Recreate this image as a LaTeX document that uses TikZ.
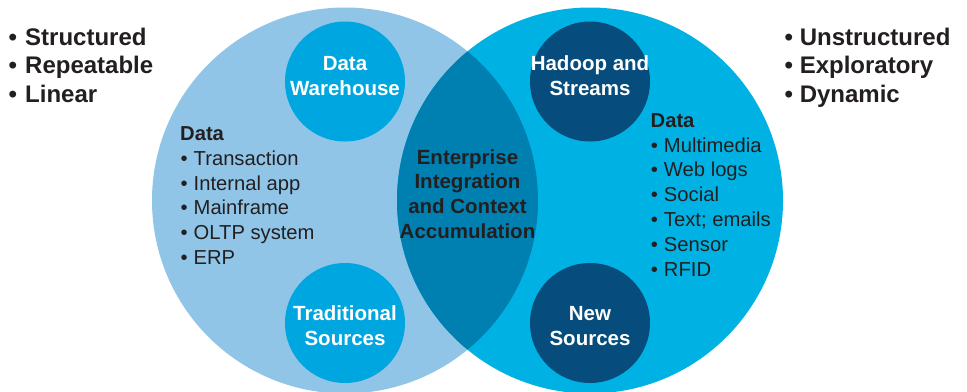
\documentclass[tikz,border=0pt]{standalone}
\usepackage{fontspec}
\setmainfont{Liberation Sans}
\begin{document}
\definecolor{paleblue}{HTML}{90C5E8}
\definecolor{skyblue}{HTML}{00B2E3}
\definecolor{lensblue}{HTML}{007FB1}
\definecolor{midblue}{HTML}{00A6E0}
\definecolor{navyblue}{HTML}{064C7C}
\definecolor{ink}{HTML}{231F20}
\begin{tikzpicture}[x=1bp,y=-1bp,
  bigset/.style={circle,inner sep=0pt,minimum size=386bp},
  smallset/.style={circle,inner sep=0pt,minimum size=120bp},
  headtext/.style={anchor=base west,inner sep=0pt,text=ink,
    font=\fontsize{24bp}{28bp}\selectfont\bfseries},
  listtext/.style={anchor=base west,inner sep=0pt,text=ink,
    font=\fontsize{20.2bp}{25bp}\selectfont},
  listhead/.style={listtext,font=\fontsize{20.2bp}{25bp}\selectfont\bfseries},
  circletext/.style={anchor=base,inner sep=0pt,text=white,
    font=\fontsize{20.5bp}{25bp}\selectfont\bfseries},
  lenstext/.style={anchor=base,inner sep=0pt,text=ink,
    font=\fontsize{20.5bp}{25bp}\selectfont\bfseries}]
\fill[white] (0,0) rectangle (967,391);
\useasboundingbox (0,0) rectangle (967,391);

% two overlapping sets
\node[bigset,fill=paleblue] (trad) at (345,200.5) {};
\node[bigset,fill=skyblue] (new) at (590,200.5) {};
\begin{scope}
  \clip (345,200.5) circle [radius=193bp];
  \fill[lensblue] (590,200.5) circle [radius=193bp];
\end{scope}

% small circles
\node[smallset,fill=midblue] (dw) at (345,81.5) {};
\node[smallset,fill=midblue] (ts) at (345,323) {};
\node[smallset,fill=navyblue] (hs) at (590,81.5) {};
\node[smallset,fill=navyblue] (ns) at (590,323) {};

\node[circletext] (dw1) at (345,70.7) {Data};
\node[circletext] (dw2) at (345,95) {Warehouse};
\node[circletext] (ts1) at (345,320) {Traditional};
\node[circletext] (ts2) at (345,345) {Sources};
\node[circletext] (hs1) at (590,70.7) {Hadoop and};
\node[circletext] (hs2) at (590,95) {Streams};
\node[circletext] (ns1) at (590,320) {New};
\node[circletext] (ns2) at (590,345) {Sources};

% overlap label
\foreach \t [count=\i from 0] in {Enterprise,Integration,and Context,Accumulation}
  \node[lenstext] (lens\i) at (467.5,164+24.75*\i) {\t};

% corner characteristics
\foreach \t [count=\i from 0] in {Structured,Repeatable,Linear}
  \node[headtext] (lt\i) at (8.4,45+28.9*\i) {\makebox[16.6bp][l]{•}\t};
\foreach \t [count=\i from 0] in {Unstructured,Exploratory,Dynamic}
  \node[headtext] (rt\i) at (784.4,45+28.9*\i) {\makebox[15.2bp][l]{•}\t};

% data lists
\node[listhead] (ld) at (180,140.5) {Data};
\foreach \t [count=\i from 1] in {Transaction,Internal app,Mainframe,OLTP system,ERP}
  \node[listtext] (li\i) at (180.3,140.5+24.8*\i) {\makebox[13.2bp][l]{•}\t};
\node[listhead] (rd) at (650.5,127.3) {Data};
\foreach \t [count=\i from 1] in {Multimedia,Web logs,Social,Text; emails,Sensor,RFID}
  \node[listtext] (ri\i) at (650.6,127.3+24.8*\i) {\makebox[13.2bp][l]{•}\t};
\end{tikzpicture}
\end{document}
